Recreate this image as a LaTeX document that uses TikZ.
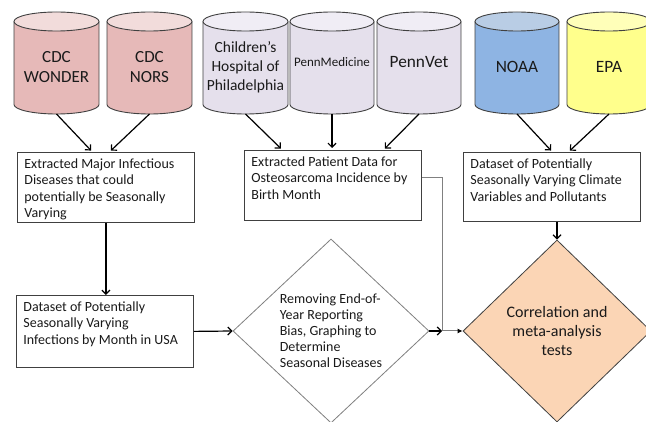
\documentclass[tikz,border=0pt]{standalone}
\usepackage{fontspec}
\setmainfont{Carlito}
\usetikzlibrary{arrows.meta,shapes.geometric,calc}

\definecolor{pinkbody}{RGB}{230,185,184}
\definecolor{pinktop}{RGB}{242,220,219}
\definecolor{purbody}{RGB}{229,224,236}
\definecolor{purtop}{RGB}{240,237,245}
\definecolor{bluebody}{RGB}{142,180,227}
\definecolor{bluetop}{RGB}{185,205,229}
\definecolor{yelbody}{RGB}{255,255,140}
\definecolor{yeltop}{RGB}{255,255,185}
\definecolor{peach}{RGB}{251,213,181}
\definecolor{edgec}{RGB}{64,64,64}
\definecolor{txt}{RGB}{26,26,26}
\definecolor{grayc}{RGB}{128,128,128}

% #1 name, #2 left, #3 right, #4 top, #5 bottom, #6 body colour, #7 top colour
\newcommand\cylshape[7]{%
  \pgfmathsetmacro\cylcx{(#2+#3)/2}%
  \pgfmathsetmacro\cylrx{(#3-#2)/2}%
  \fill[#6] (#2,#4+9.5) rectangle (#3,#5-9.5);
  \fill[#6] (\cylcx,#5-9.5) ellipse[x radius=\cylrx, y radius=9.5];
  \draw[cylline] (#2,#4+9.5) -- (#2,#5-9.5)
     arc[start angle=180, end angle=0, x radius=\cylrx, y radius=9.5] -- (#3,#4+9.5);
  \filldraw[cylline, fill=#7] (\cylcx,#4+9.5) ellipse[x radius=\cylrx, y radius=9.5];
  \node[cylnode, minimum width=#3-#2, minimum height=#5-#4] (#1) at (\cylcx,{(#4+#5)/2}) {};
}
\newcommand\boxtext[2]{\parbox[c][#1pt][t]{163pt}{\fontsize{14}{16.5}\selectfont\raggedright #2}}

\begin{document}
\begin{tikzpicture}[x=1pt,y=-1pt,
  cylline/.style={draw=edgec, line width=0.9pt},
  cylnode/.style={rectangle, inner sep=0pt, outer sep=0pt},
  cyltext/.style={text=txt, align=center, inner sep=0pt},
  procbox/.style={draw=edgec, line width=0.8pt, fill=white, anchor=north west,
                  inner xsep=7pt, inner ysep=6pt, text=txt},
  arr/.style={black, line width=1.2pt, -{Straight Barb[length=4pt,width=8pt]}},
  grayline/.style={draw=grayc, line width=1pt},
  diam/.style={diamond, inner sep=0pt, text=txt}]

\useasboundingbox (0,0) rectangle (646,422);
\fill[white] (0,0) rectangle (646,422);

% cylinders
\cylshape{wonder}{14}{99}{12}{114}{pinkbody}{pinktop}
\cylshape{nors}{107}{192}{12}{114}{pinkbody}{pinktop}
\cylshape{chop}{203}{288}{12}{114}{purbody}{purtop}
\cylshape{pmed}{290}{374}{12}{114}{purbody}{purtop}
\cylshape{pvet}{377}{461}{12}{114}{purbody}{purtop}
\cylshape{noaa}{475}{559}{12}{114}{bluebody}{bluetop}
\cylshape{epa}{567}{651}{12}{114}{yelbody}{yeltop}

\node[cyltext, font=\fontsize{17}{20}\selectfont] (wonder-t) at (56.5,67) {CDC\\WONDER};
\node[cyltext, font=\fontsize{17}{20}\selectfont] (nors-t) at (149.5,67) {CDC\\NORS};
\node[cyltext, font=\fontsize{15.5}{19}\selectfont] (chop-t) at (245.5,67) {Children’s\\Hospital of\\Philadelphia};
\node[cyltext, font=\fontsize{13}{15}\selectfont] (pmed-t) at (332,62) {PennMedicine};
\node[cyltext, font=\fontsize{17.3}{20}\selectfont] (pvet-t) at (419,62) {PennVet};
\node[cyltext, font=\fontsize{17.3}{20}\selectfont] (noaa-t) at (517,67) {NOAA};
\node[cyltext, font=\fontsize{17.3}{20}\selectfont] (epa-t) at (609,67) {EPA};

% boxes
\node[procbox] (b1) at (17,152) {\boxtext{58}{Extracted Major Infectious\\Diseases that could\\potentially be Seasonally\\Varying}};
\node[procbox] (b2) at (244,150) {\boxtext{58}{Extracted Patient Data for\\Osteosarcoma Incidence by\\Birth Month}};
\node[procbox] (b3) at (463,152) {\boxtext{57}{Dataset of Potentially\\Seasonally Varying Climate\\Variables and Pollutants}};
\node[procbox] (b4) at (16,295) {\boxtext{60}{Dataset of Potentially\\Seasonally Varying\\Infections by Month in USA}};

% diamonds
\node[diam, draw=grayc, line width=0.8pt, minimum width=196pt, minimum height=184pt,
      align=left, font=\fontsize{14}{16}\selectfont] (d1) at (331,331)
      {Removing End-of-\\Year Reporting\\Bias, Graphing to\\Determine\\Seasonal Diseases};
\node[diam, draw=edgec, line width=0.8pt, fill=peach, minimum width=188pt, minimum height=182pt,
      align=center, font=\fontsize{16}{19}\selectfont] (d2) at (557,331)
      {Correlation and\\meta-analysis\\tests};

\coordinate (j) at (442,331);

% connectors from sources
\draw[arr, shorten >=2pt] (wonder.south) -- ($(b1.north)+(-13.5,0)$);
\draw[arr, shorten >=2pt] (nors.south) -- ($(b1.north)+(3.5,0)$);
\draw[arr, shorten >=2pt] (chop.south) -- ($(b2.north)+(-50.5,0)$);
\draw[arr, shorten >=2pt] (pmed.south) -- (pmed.south |- b2.north);
\draw[arr, shorten >=2pt] (pvet.south) -- ($(b2.north)+(50.5,0)$);
\draw[arr, shorten >=2pt] (noaa.south) -- ($(b3.north)+(0.5,0)$);
\draw[arr, shorten >=2pt] (epa.south) -- ($(b3.north)+(16.5,0)$);

% flow
\draw[arr] (b1.south) -- (b1.south |- b4.north);
\draw[arr] (b4.east) -- (d1.west);
\draw[arr] (d2.north |- b3.south) -- (d2.north);
\draw[grayline, -{Latex[length=5pt,width=5pt,color=black]}] ($(b2.east)+(0,-8)$) -| (j) -- (d2.west);
\draw[arr] (d1.east) -- (j);
\end{tikzpicture}
\end{document}
